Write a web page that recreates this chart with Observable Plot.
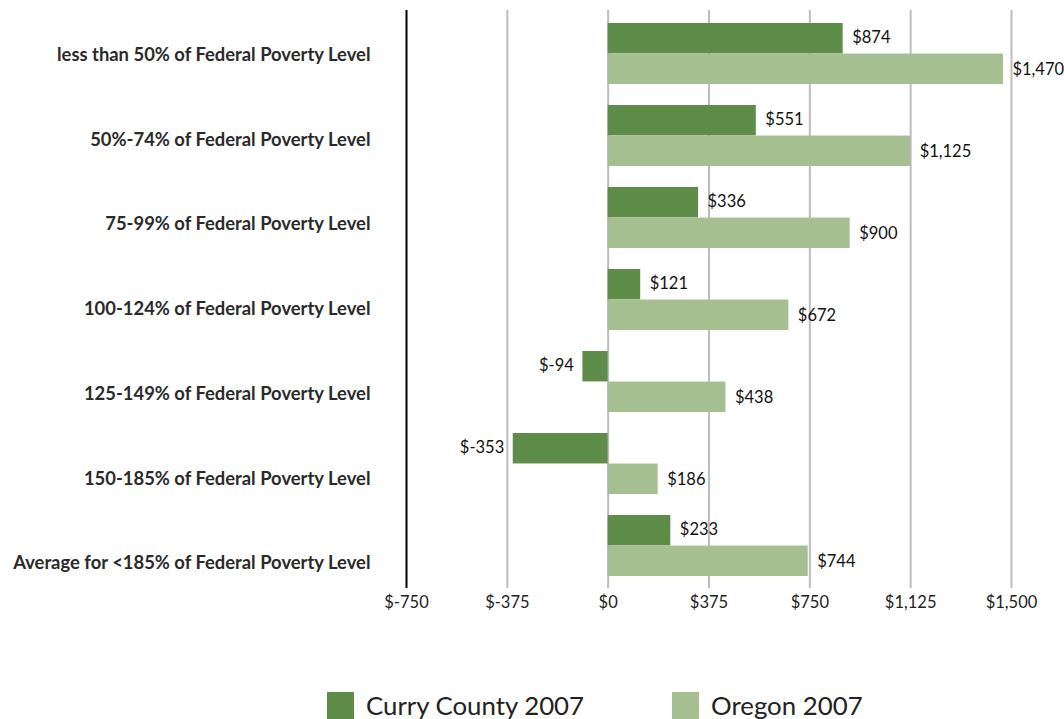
<!DOCTYPE html>
<html>
<head>
<meta charset="utf-8">
<script src="https://cdn.jsdelivr.net/npm/d3@7"></script>
<script src="https://cdn.jsdelivr.net/npm/@observablehq/plot@0.6"></script>
<style>
  html, body { margin: 0; padding: 0; background: #fff; }
  body { width: 1064px; height: 719px; overflow: hidden; font-family: Lato, "Open Sans", sans-serif; }
  #legend { display: flex; justify-content: flex-start; margin-top: 70px; padding-left: 327px; }
  .item { display: flex; align-items: center; font-size: 25.8px; color: #222; }
  .item + .item { margin-left: 88px; }
  .sw { width: 27px; height: 27px; margin-right: 12px; }
</style>
</head>
<body>
<div id="chart"></div>
<div id="legend"></div>
<script>
const categories = [
  "less than 50% of Federal Poverty Level",
  "50%-74% of Federal Poverty Level",
  "75-99% of Federal Poverty Level",
  "100-124% of Federal Poverty Level",
  "125-149% of Federal Poverty Level",
  "150-185% of Federal Poverty Level",
  "Average for <185% of Federal Poverty Level"
];
const curry = [874, 551, 336, 121, -94, -353, 233];
const oregon = [1470, 1125, 900, 672, 438, 186, 744];
const xTicks = [-750, -375, 0, 375, 750, 1125, 1500];
const seriesNames = ["Curry County 2007", "Oregon 2007"];
const seriesColors = ["#5e8d4a", "#a6bf91"];

const rows = [];
categories.forEach((c, i) => {
  rows.push({cat: c, series: seriesNames[0], value: curry[i]});
  rows.push({cat: c, series: seriesNames[1], value: oregon[i]});
});

const money = d => "$" + (d < 0 ? "-" : "") + d3.format(",")(Math.abs(d));

const W = 1064, H = 620, mT = 10, mB = 32;
const step = (H - mT - mB) / categories.length;
const bw = step * (1 - 0.26);
const half = bw / 2;
const labelDrift = 2.75; // category labels drift slightly lower than bars in the original

const A = rows.filter(d => d.series === seriesNames[0]);
const B = rows.filter(d => d.series === seriesNames[1]);

const chart = Plot.plot({
  width: W,
  height: H,
  marginLeft: 406,
  marginRight: 53,
  marginTop: mT,
  marginBottom: mB,
  style: {fontFamily: "Lato, 'Open Sans', sans-serif", color: "#222", background: "#fff"},
  x: {domain: [-750, 1500]},
  y: {domain: categories, paddingInner: 0.26, paddingOuter: 0.13, axis: null},
  color: {domain: seriesNames, range: seriesColors},
  marks: [
    Plot.ruleX(xTicks.filter(t => t !== -750), {stroke: "#bdbdbd", strokeWidth: 2}),
    Plot.barX(A, {x: "value", y: "cat", fill: "series", insetBottom: half}),
    Plot.barX(B, {x: "value", y: "cat", fill: "series", insetTop: half}),
    Plot.ruleX([-750], {stroke: "#000", strokeWidth: 2}),
    Plot.text(A.filter(d => d.value >= 0), {x: "value", y: "cat", text: d => money(d.value), dy: -half / 2 - 1, dx: 9, textAnchor: "start", fontSize: 16.5, fill: "#111"}),
    Plot.text(A.filter(d => d.value < 0), {x: "value", y: "cat", text: d => money(d.value), dy: -half / 2 - 1, dx: -9, textAnchor: "end", fontSize: 16.5, fill: "#111"}),
    Plot.text(B, {x: "value", y: "cat", text: d => money(d.value), dy: half / 2, dx: 9, textAnchor: "start", fontSize: 16.5, fill: "#111"}),
    Plot.axisX({ticks: xTicks, tickFormat: money, tickSize: 0, tickPadding: 8, fontSize: 16.5, label: null}),
    ...categories.map((c, i) => Plot.text([c], {
      y: d => d, frameAnchor: "left", dx: -36, dy: 1 + i * labelDrift,
      textAnchor: "end", fontSize: 18.4, fontWeight: "bold", fill: "#2a2a2a"
    }))
  ]
});
document.getElementById("chart").appendChild(chart);

const legend = document.getElementById("legend");
seriesNames.forEach((n, i) => {
  const it = document.createElement("div");
  it.className = "item";
  const sw = document.createElement("div");
  sw.className = "sw";
  sw.style.background = seriesColors[i];
  const t = document.createElement("span");
  t.textContent = n;
  it.appendChild(sw);
  it.appendChild(t);
  legend.appendChild(it);
});
</script>
</body>
</html>
